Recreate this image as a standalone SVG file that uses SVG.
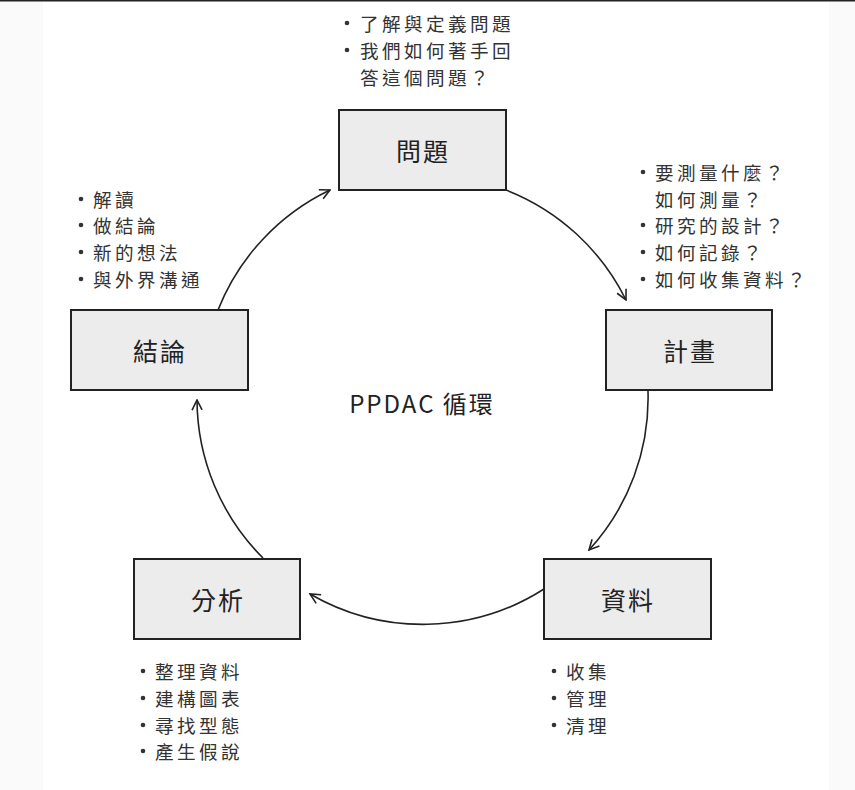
<svg xmlns="http://www.w3.org/2000/svg" width="855" height="790" viewBox="0 0 855 790">
<style>
.box{fill:#ececec;stroke:#222;stroke-width:2}
.lbl{font-family:"Noto Sans CJK TC","Noto Sans",sans-serif;font-size:25px;fill:#222;text-anchor:middle;dominant-baseline:central;letter-spacing:2px}
.li{font-family:"Noto Sans CJK TC","Noto Sans",sans-serif;font-size:18.6px;fill:#333;dominant-baseline:central;letter-spacing:3.4px}
.bu{fill:#333}
.arc{fill:none;stroke:#222;stroke-width:1.6;marker-end:url(#ah)}
</style>
<defs>
<marker id="ah" viewBox="0 0 12 12" refX="11" refY="6" markerWidth="12" markerHeight="12" markerUnits="userSpaceOnUse" orient="auto">
<path d="M1,1 L11,6 L1,11" fill="none" stroke="#222" stroke-width="1.6"/>
</marker>
</defs>
<rect x="0" y="0" width="855" height="790" fill="#fff"/>
<rect x="0" y="0" width="43" height="790" fill="#fafafa"/>
<rect x="829" y="0" width="26" height="790" fill="#fafafa"/>
<line x1="0" y1="0.75" x2="855" y2="0.75" stroke="#222" stroke-width="1.5"/>

<g id="connectors">
<path class="arc" d="M506,190 A225,225 0 0 1 626,300"/>
<path class="arc" d="M648,391 A225,225 0 0 1 589,550"/>
<path class="arc" d="M544,589 A225,225 0 0 1 310,594"/>
<path class="arc" d="M263,558 A225,225 0 0 1 197,400"/>
<path class="arc" d="M218,310 A225,225 0 0 1 330,190"/>
</g>

<text x="422" y="402" font-family="Noto Sans CJK TC, Noto Sans, sans-serif" font-size="24" fill="#222" text-anchor="middle" dominant-baseline="central" letter-spacing="2">PPDAC 循環</text>

<g id="node-problem">
<rect class="box" x="339" y="110" width="167" height="80"/>
<text class="lbl" x="423" y="150">問題</text>
</g>
<g id="node-plan">
<rect class="box" x="606" y="310" width="166" height="80"/>
<text class="lbl" x="690" y="350">計畫</text>
</g>
<g id="node-data">
<rect class="box" x="544" y="559" width="167" height="80"/>
<text class="lbl" x="628" y="599">資料</text>
</g>
<g id="node-analysis">
<rect class="box" x="134" y="559" width="166" height="80"/>
<text class="lbl" x="218" y="599">分析</text>
</g>
<g id="node-conclusion">
<rect class="box" x="71" y="310" width="177" height="80"/>
<text class="lbl" x="160" y="350">結論</text>
</g>

<g id="notes-problem">
<circle class="bu" cx="347" cy="23" r="2.3"/>
<circle class="bu" cx="347" cy="50" r="2.3"/>
<text class="li"><tspan x="360" y="22">了解與定義問題</tspan><tspan x="360" y="49">我們如何著手回</tspan><tspan x="360" y="76">答這個問題？</tspan></text>
</g>
<g id="notes-plan">
<circle class="bu" cx="643" cy="172" r="2.3"/>
<circle class="bu" cx="643" cy="225" r="2.3"/>
<circle class="bu" cx="643" cy="252" r="2.3"/>
<circle class="bu" cx="643" cy="279" r="2.3"/>
<text class="li"><tspan x="655" y="171">要測量什麼？</tspan><tspan x="655" y="198">如何測量？</tspan><tspan x="655" y="224">研究的設計？</tspan><tspan x="655" y="251">如何記錄？</tspan><tspan x="655" y="278">如何收集資料？</tspan></text>
</g>
<g id="notes-conclusion">
<circle class="bu" cx="81" cy="199" r="2.3"/>
<circle class="bu" cx="81" cy="225" r="2.3"/>
<circle class="bu" cx="81" cy="252" r="2.3"/>
<circle class="bu" cx="81" cy="279" r="2.3"/>
<text class="li"><tspan x="93" y="198">解讀</tspan><tspan x="93" y="224">做結論</tspan><tspan x="93" y="251">新的想法</tspan><tspan x="93" y="278">與外界溝通</tspan></text>
</g>
<g id="notes-data">
<circle class="bu" cx="554" cy="671" r="2.3"/>
<circle class="bu" cx="554" cy="698" r="2.3"/>
<circle class="bu" cx="554" cy="725" r="2.3"/>
<text class="li"><tspan x="566" y="670">收集</tspan><tspan x="566" y="697">管理</tspan><tspan x="566" y="724">清理</tspan></text>
</g>
<g id="notes-analysis">
<circle class="bu" cx="143" cy="671" r="2.3"/>
<circle class="bu" cx="143" cy="698" r="2.3"/>
<circle class="bu" cx="143" cy="725" r="2.3"/>
<circle class="bu" cx="143" cy="751" r="2.3"/>
<text class="li"><tspan x="155" y="670">整理資料</tspan><tspan x="155" y="697">建構圖表</tspan><tspan x="155" y="724">尋找型態</tspan><tspan x="155" y="750">產生假說</tspan></text>
</g>
</svg>
